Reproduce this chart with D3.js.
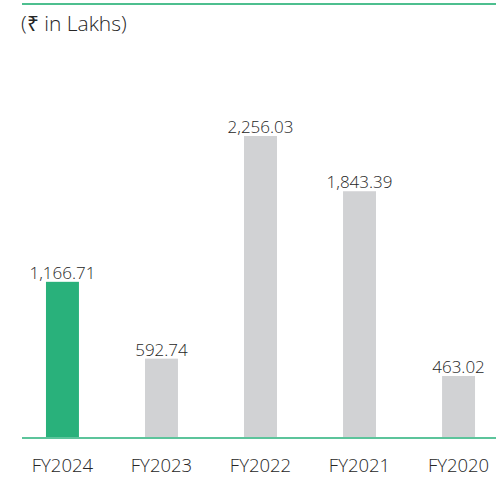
<!DOCTYPE html>
<html>
<head>
<meta charset="utf-8">
<script src="https://cdn.jsdelivr.net/npm/d3@7"></script>
<style>
  body { margin: 0; background: #fff; }
  text { font-family: 'Open Sans', sans-serif; font-weight: 300; fill: #262626; }
</style>
</head>
<body>
<svg width="496" height="477"></svg>
<script>
const years = ['FY2024', 'FY2023', 'FY2022', 'FY2021', 'FY2020']
const values = [1166.71, 592.74, 2256.03, 1843.39, 463.02]
const labels = ['1,166.71', '592.74', '2,256.03', '1,843.39', '463.02']
const unitLabel = '(₹ in Lakhs)'

const svg = d3.select('svg')
const baseY = 438
const left = 22
const right = 496

// top rule
svg.append('line')
  .attr('x1', left).attr('x2', right)
  .attr('y1', 4).attr('y2', 4)
  .attr('stroke', '#4dbf8f').attr('stroke-width', 2)

svg.append('text')
  .attr('x', left - 1).attr('y', 31)
  .attr('font-size', 21)
  .text(unitLabel)

const x = d3.scaleBand()
  .domain(years)
  .range([13, 508])
  .paddingInner(0.667)
  .paddingOuter(0.333)

const y = d3.scaleLinear()
  .domain([0, 2256.03])
  .range([baseY, 136])

svg.selectAll('.bar')
  .data(values)
  .enter().append('rect')
  .attr('class', 'bar')
  .attr('x', (d, i) => x(years[i]))
  .attr('y', (d) => y(d))
  .attr('width', x.bandwidth())
  .attr('height', (d) => baseY - y(d))
  .attr('fill', (d, i) => i === 0 ? '#29b17b' : '#d1d2d4')

svg.selectAll('.val')
  .data(values)
  .enter().append('text')
  .attr('class', 'val')
  .attr('x', (d, i) => x(years[i]) + x.bandwidth() / 2)
  .attr('y', (d) => y(d) - 3)
  .attr('text-anchor', 'middle')
  .attr('font-size', 17)
  .text((d, i) => labels[i])

// baseline
svg.append('line')
  .attr('x1', left).attr('x2', right)
  .attr('y1', baseY).attr('y2', baseY)
  .attr('stroke', '#5cc49b').attr('stroke-width', 2)

const xAxis = svg.append('g')
  .attr('transform', 'translate(0,' + baseY + ')')
  .call(d3.axisBottom(x).tickSize(0).tickPadding(21))
xAxis.select('.domain').remove()
xAxis.selectAll('text')
  .attr('font-size', 18.5)
  .attr('font-family', "'Open Sans', sans-serif")
  .attr('font-weight', 300)
  .attr('fill', '#262626')
</script>
</body>
</html>
